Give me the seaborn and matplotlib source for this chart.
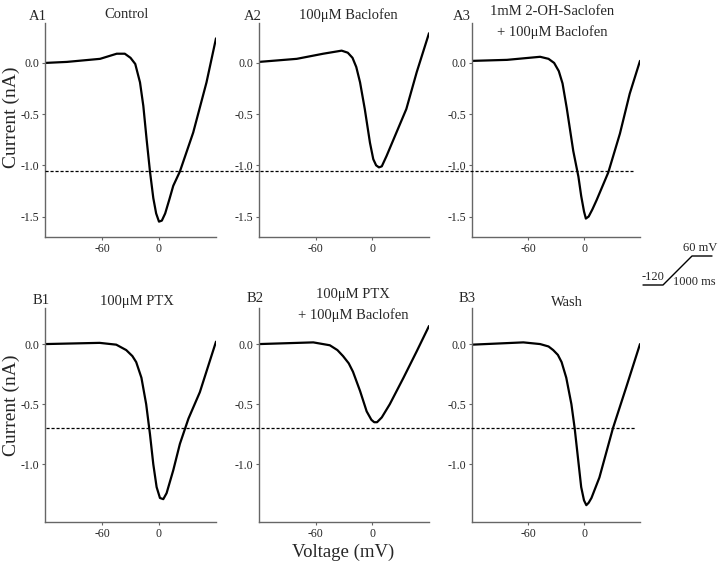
import matplotlib
matplotlib.use("Agg")
import matplotlib.pyplot as plt
from matplotlib.lines import Line2D
from matplotlib import transforms
import pandas as pd
import seaborn as sns

# I-V curves (voltage in mV, current in nA)
a1_v = [-120, -97, -62, -44.5, -36, -30, -25, -20, -16.5, -13, -9.5, -6, -3, 0, 3, 6.5, 11, 15, 22, 36, 50, 60]
a1_i = [0.0, 0.01, 0.04, 0.09, 0.09, 0.05, -0.01, -0.19, -0.42, -0.75, -1.06, -1.32, -1.47, -1.55, -1.54, -1.47, -1.33, -1.20, -1.06, -0.68, -0.19, 0.24]

a2_v = [-120, -80, -52, -32.5, -26, -21, -17, -13, -8, -2.5, 1, 4, 7, 10, 15, 25.5, 36, 47, 60]
a2_i = [0.01, 0.04, 0.09, 0.12, 0.10, 0.05, -0.04, -0.19, -0.45, -0.78, -0.94, -1.00, -1.02, -1.01, -0.91, -0.68, -0.45, -0.09, 0.29]

a3_v = [-120, -82.5, -47, -38, -32, -27, -23, -18.5, -11.5, -6, -3, 0, 2, 5, 9, 13.5, 26, 38.5, 49, 60]
a3_i = [0.02, 0.03, 0.06, 0.04, 0.0, -0.08, -0.20, -0.44, -0.86, -1.11, -1.30, -1.45, -1.52, -1.50, -1.43, -1.34, -1.07, -0.69, -0.30, 0.02]

b1_v = [-120, -62.5, -45, -34.5, -28, -24, -18.5, -13.5, -9.5, -6, -2.5, 1, 4.5, 8, 15, 22, 31, 43, 60]
b1_i = [0.0, 0.01, -0.005, -0.05, -0.10, -0.15, -0.28, -0.50, -0.75, -1.0, -1.19, -1.28, -1.29, -1.24, -1.05, -0.83, -0.62, -0.40, 0.02]

b2_v = [-120, -62.5, -45, -37, -31, -25, -20.5, -13, -6, -1, 2, 5, 10, 18.5, 33, 47, 60]
b2_i = [0.0, 0.014, -0.01, -0.05, -0.10, -0.16, -0.23, -0.39, -0.56, -0.63, -0.65, -0.65, -0.61, -0.50, -0.28, -0.06, 0.15]

b3_v = [-120, -65, -47, -38, -33, -28, -24, -19, -13.5, -10, -6.5, -3, 0, 2.5, 5, 8, 16.5, 31, 45, 60]
b3_i = [-0.005, 0.014, 0.0, -0.02, -0.05, -0.09, -0.15, -0.28, -0.50, -0.70, -0.945, -1.19, -1.30, -1.34, -1.32, -1.28, -1.11, -0.70, -0.365, 0.0]

panel_ids = ["A1", "A2", "A3", "B1", "B2", "B3"]
panel_titles = ["Control", "100\u03bcM Baclofen", "1mM 2-OH-Saclofen\n+ 100\u03bcM Baclofen",
                "100\u03bcM PTX", "100\u03bcM PTX\n+ 100\u03bcM Baclofen", "Wash"]
curves = [(a1_v, a1_i), (a2_v, a2_i), (a3_v, a3_i), (b1_v, b1_i), (b2_v, b2_i), (b3_v, b3_i)]
ref_levels = [-1.06, -0.70]  # dashed reference lines, row A and row B
x_ticks = [-60, 0]
y_ticks_a = [0.0, -0.5, -1.0, -1.5]
y_ticks_b = [0.0, -0.5, -1.0]

sns.set_style("ticks")
plt.rcParams["font.family"] = ["Liberation Serif", "DejaVu Serif"]
plt.rcParams["axes.unicode_minus"] = False

W, H = 720, 566
fig = plt.figure(figsize=(7.2, 5.66), dpi=100)


def fx(p):
    return p / W


def fy(p):
    return 1 - p / H


def box(l, r, t, b):
    return [l / W, 1 - b / H, (r - l) / W, (b - t) / H]


lefts = [(45, 216), (259, 429), (472, 640)]
rows = [(23, 237), (308, 522)]
ylims = [(-1.70, 0.39), (-1.48, 0.30)]

# label / title anchor positions in pixels (x, y)
id_pos = [(38, 16), (253, 16), (462, 16), (41, 300), (255, 299), (467, 299)]
title_pos = [(127, 15), (348, 15), (552, 22), (137, 302), (353, 305), (567, 302)]

axes = []
for k in range(6):
    r, c = divmod(k, 3)
    ax = fig.add_axes(box(lefts[c][0], lefts[c][1], rows[r][0], rows[r][1]))
    v, i = curves[k]
    df = pd.DataFrame({"v": v, "i": i})
    sns.lineplot(data=df, x="v", y="i", ax=ax, color="black", lw=1.6, sort=False)
    ax.set_xlim(-120, 60)
    ax.set_ylim(*ylims[r])
    ax.set_xticks(x_ticks)
    ax.set_xticklabels([str(t) for t in x_ticks])
    yt = y_ticks_a if r == 0 else y_ticks_b
    ax.set_yticks(yt)
    ax.set_yticklabels([f"{t:.1f}" for t in yt])
    ax.set_xlabel("")
    ax.set_ylabel("")
    sns.despine(ax=ax)
    for s in ("left", "bottom"):
        ax.spines[s].set_color("#666666")
        ax.spines[s].set_linewidth(1.0)
    ax.tick_params(labelsize=8.5, length=2, width=0.8, color="#666666", pad=2)
    fig.text(fx(id_pos[k][0]), fy(id_pos[k][1]), panel_ids[k], ha="center",
             va="center", fontsize=10.5)
    fig.text(fx(title_pos[k][0]), fy(title_pos[k][1]), panel_titles[k], ha="center",
             va="center", fontsize=10.5, linespacing=1.6)
    axes.append(ax)

fig.text(fx(11), fy(117), "Current (nA)", rotation=90, ha="center", va="center", fontsize=14)
fig.text(fx(11), fy(405), "Current (nA)", rotation=90, ha="center", va="center", fontsize=14)
fig.text(fx(343), fy(552), "Voltage (mV)", ha="center", va="center", fontsize=13.5)

# dashed reference lines spanning each row
line_x = [(45, 633), (46, 636)]
for r, lvl in enumerate(ref_levels):
    tr = transforms.blended_transform_factory(fig.transFigure, axes[3 * r].transData)
    fig.add_artist(Line2D([fx(line_x[r][0]), fx(line_x[r][1])], [lvl, lvl],
                          transform=tr, color="black", lw=0.9, ls=(0, (2.5, 1.5))))

# voltage ramp protocol inset
px = [643, 663, 692, 712]
py = [285, 285, 256, 256]
fig.add_artist(Line2D([fx(p) for p in px], [fy(p) for p in py],
                      transform=fig.transFigure, color="black", lw=1.0))
fig.text(fx(653), fy(283), "-120", ha="center", va="bottom", fontsize=9)
fig.text(fx(700), fy(254), "60 mV", ha="center", va="bottom", fontsize=9)
fig.text(fx(673), fy(282), "1000 ms", ha="left", va="center", fontsize=9)

fig.savefig("out.png", dpi=100)
